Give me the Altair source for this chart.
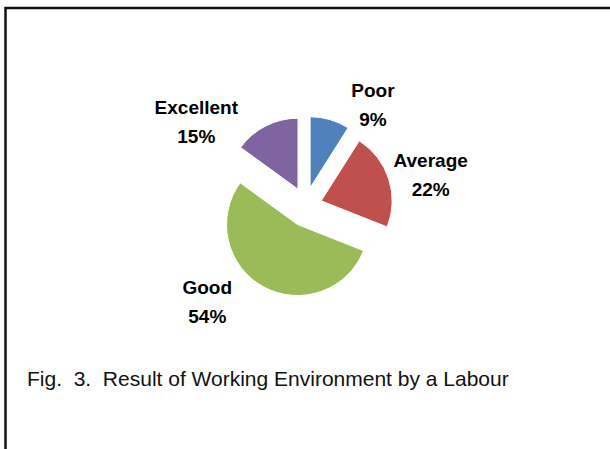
import altair as alt
import pandas as pd

# ---- data ----
categories = ["Poor", "Average", "Good", "Excellent"]
values = [9, 22, 54, 15]
colors = ["#4F81BD", "#C0504D", "#9BBB59", "#8064A2"]
caption = "Fig.\u00a0\u00a03.\u00a0\u00a0Result of Working Environment by a Labour"

# ---- layout constants (pixels) ----
W, H = 610, 449
CX, CY = 305.5, 207          # pie centre
RADIUS = 71
EXPLODE_X, EXPLODE_Y = 16.5, 20
LABEL_NUDGE = {"Poor": 17.5, "Average": 4, "Good": 17, "Excellent": -25.3}   # degrees
LABEL_R = {"Poor": 121.5, "Average": 129, "Good": 137, "Excellent": 138}
LINE_H = 29

df = pd.DataFrame({"category": categories, "value": values, "order": list(range(len(categories)))})

xs = alt.Scale(domain=[-CX, W - CX], range=[0, W])
ys = alt.Scale(domain=[-(H - CY), CY], range=[H, 0])

nudge_expr = "{" + ",".join(f"'{k}':{v}" for k, v in LABEL_NUDGE.items()) + "}"
lr_expr = "{" + ",".join(f"'{k}':{v}" for k, v in LABEL_R.items()) + "}"

base = (
    alt.Chart(df)
    .transform_window(cum="sum(value)", sort=[alt.SortField("order")], frame=[None, 0])
    .transform_joinaggregate(total="sum(value)")
    .transform_calculate(
        t1="2*PI*datum.cum/datum.total",
        t0="2*PI*(datum.cum-datum.value)/datum.total",
    )
    .transform_calculate(mid="(datum.t0+datum.t1)/2")
    .transform_calculate(
        ox=f"{EXPLODE_X}*sin(datum.mid)",
        oy=f"{EXPLODE_Y}*cos(datum.mid)",
        la=f"datum.mid + ({nudge_expr})[datum.category]*PI/180",
        lr=f"({lr_expr})[datum.category]",
        label="datum.category + '\\n' + datum.value + '%'",
    )
    .transform_calculate(
        lx="datum.lr*sin(datum.la)",
        ly="datum.lr*cos(datum.la)",
    )
)

arcs = base.mark_arc(radius=RADIUS, stroke="white", strokeWidth=1).encode(
    x=alt.X("ox:Q", scale=xs, axis=None),
    y=alt.Y("oy:Q", scale=ys, axis=None),
    theta=alt.Theta("t0:Q", scale=None),
    theta2="t1:Q",
    color=alt.Color("category:N", scale=alt.Scale(domain=categories, range=colors), legend=None),
)

labels = base.mark_text(
    lineBreak="\n", lineHeight=LINE_H, font="Liberation Sans", fontWeight="bold",
    fontSize=19, align="center", baseline="middle", color="black", dy=-LINE_H / 2,
).encode(
    x=alt.X("lx:Q", scale=xs, axis=None),
    y=alt.Y("ly:Q", scale=ys, axis=None),
    text="label:N",
)

cap = alt.Chart(pd.DataFrame({"t": [caption]})).mark_text(
    font="Liberation Sans", fontSize=21, align="left", baseline="middle", color="#111"
).encode(x=alt.value(27), y=alt.value(380), text="t:N")

border = alt.Chart(pd.DataFrame({"a": [0]})).mark_rect(
    fillOpacity=0, stroke="#111", strokeWidth=2.5
).encode(x=alt.value(5.5), x2=alt.value(660), y=alt.value(8), y2=alt.value(500))

chart = (
    alt.layer(border, arcs, labels, cap)
    .properties(width=W, height=H, padding=0, autosize=alt.AutoSizeParams(type="none"))
    .configure_view(strokeWidth=0)
)

chart.save("out.html", embed_options={"renderer": "svg", "actions": False})
